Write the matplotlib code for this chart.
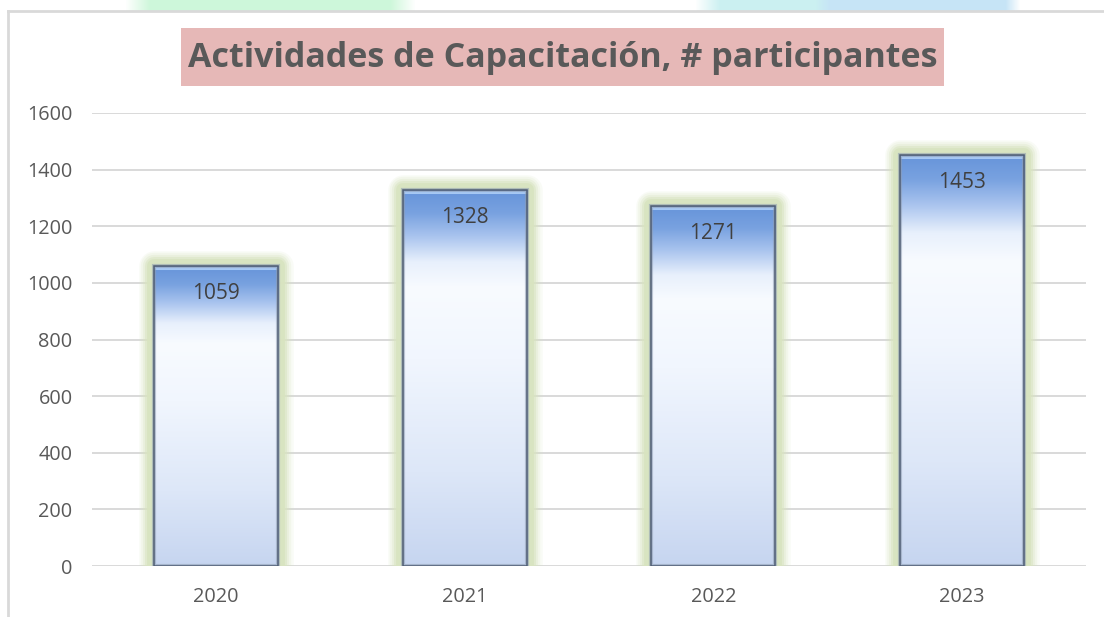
import numpy as np
import matplotlib
matplotlib.use("Agg")
import matplotlib.pyplot as plt
from matplotlib.patches import Rectangle
from matplotlib.colors import LinearSegmentedColormap, to_rgb
from matplotlib.transforms import offset_copy

# ---- data ----
years = ["2020", "2021", "2022", "2023"]
participants = [1059, 1328, 1271, 1453]
yticks = [0, 200, 400, 600, 800, 1000, 1200, 1400, 1600]
title = "Actividades de Capacitación, # participantes"

W, H = 1104, 617
fig = plt.figure(figsize=(W / 100, H / 100), dpi=100)
fig.patch.set_facecolor("white")

FONT = ["Open Sans", "DejaVu Sans"]
GRAY = "#595959"

# ---- decorative top strip (watermark colours above frame) ----
strip = fig.add_axes([0, 1 - 11 / H, 1, 11 / H])
strip.set_axis_off()
img = np.ones((1, W, 3))
def blend(img, x0, x1, col, fade):
    c = np.array(to_rgb(col))
    for i in range(W):
        a = 0.0
        if x0 - fade <= i <= x1 + fade:
            if i < x0:
                a = (i - (x0 - fade)) / fade
            elif i > x1:
                a = ((x1 + fade) - i) / fade
            else:
                a = 1.0
        img[0, i] = img[0, i] * (1 - a) + c * a
blend(img, 150, 390, "#cdf7da", 25)
blend(img, 720, 830, "#cbf0f1", 25)
blend(img, 830, 1005, "#c6e4f6", 15)
strip.imshow(img, aspect="auto", extent=[0, W, 0, 1])
strip.set_xlim(0, W)

# ---- frame lines ----
fig.add_artist(plt.Line2D([8 / W, 1], [1 - 11 / H, 1 - 11 / H], color="#d9d9d9", lw=2,
                          transform=fig.transFigure))
fig.add_artist(plt.Line2D([8 / W, 8 / W], [0, 1 - 11 / H], color="#d9d9d9", lw=2,
                          transform=fig.transFigure))

# ---- title box ----
bx0, bx1, by0, by1 = 181, 944, 28, 86
fig.add_artist(Rectangle((bx0 / W, 1 - by1 / H), (bx1 - bx0) / W, (by1 - by0) / H,
                         transform=fig.transFigure, facecolor="#e6b8b7", edgecolor="none"))
fig.text((bx0 + bx1) / 2 / W, 1 - 58 / H, title, ha="center", va="center",
         fontsize=24.5, fontweight="bold", color=GRAY, family=FONT)

# ---- axes ----
ax = fig.add_axes([92 / W, 1 - 566 / H, (1086 - 92) / W, (566 - 113) / H])
ax.set_facecolor("none")
ax.set_xlim(-0.5, len(years) - 0.5)
ax.set_ylim(yticks[0], yticks[-1])
ax.set_yticks(yticks)
ax.set_xticks(range(len(years)))
ax.set_xticklabels(years)
for s in ax.spines.values():
    s.set_visible(False)
ax.tick_params(axis="both", length=0, colors=GRAY, labelsize=14.3)
ax.tick_params(axis="y", pad=14)
ax.tick_params(axis="x", pad=15)
for lab in ax.get_xticklabels() + ax.get_yticklabels():
    lab.set_family(FONT)
ax.yaxis.grid(True, color="#d9d9d9", lw=1.4)
ax.set_axisbelow(True)

# gradient for bars (top -> bottom)
grad_cmap = LinearSegmentedColormap.from_list("bar", [
    (0.0, "#6694da"),
    (0.06, "#79a2e0"),
    (0.12, "#a8c3ee"),
    (0.19, "#e8f0fc"),
    (0.26, "#f8fbff"),
    (0.45, "#f1f6fe"),
    (0.75, "#dde7f8"),
    (1.0, "#c6d5f0"),
])
grad = np.linspace(0, 1, 256).reshape(-1, 1)

bw = 0.5
bars = ax.bar(range(len(years)), participants, width=bw, color="none",
              edgecolor="none", zorder=2)
bevel_tr = offset_copy(ax.transData, fig=fig, x=0, y=-2.2, units="dots")

for i, (b, v) in enumerate(zip(bars, participants)):
    x0 = b.get_x()
    # soft green glow
    for lw, al in [(22, 0.14), (19, 0.2), (16, 0.3), (13, 0.5), (10, 0.9)]:
        ax.add_patch(Rectangle((x0, 0), bw, v, facecolor="#d8e4c0", edgecolor="#d8e4c0",
                               lw=lw, alpha=al, joinstyle="round", zorder=1.5))
    im = ax.imshow(grad, cmap=grad_cmap, aspect="auto",
                   extent=[x0, x0 + bw, 0, v], zorder=3, interpolation="bilinear")
    clip = Rectangle((x0, 0), bw, v, transform=ax.transData, facecolor="none")
    im.set_clip_path(clip)
    # top bevel highlight
    ax.plot([x0, x0 + bw], [v, v], color="#a6c8f4", lw=2.2, transform=bevel_tr,
            zorder=3.2, solid_capstyle="butt")
    # side shading and outline
    ax.add_patch(Rectangle((x0, 0), bw, v, facecolor="none", edgecolor="#8d9bb0", lw=3.0,
                           zorder=3.5, alpha=0.55))
    ax.add_patch(Rectangle((x0, 0), bw, v, facecolor="none", edgecolor="#4f5d74", lw=1.1,
                           zorder=4))
    ax.annotate(str(v), (i, v), xytext=(0, -20), textcoords="offset points",
                ha="center", va="center", fontsize=15, color="#404040", family=FONT,
                zorder=5)

ax.set_xlim(-0.5, len(years) - 0.5)
ax.set_ylim(yticks[0], yticks[-1])

fig.savefig("out.png", dpi=100, facecolor="white")
